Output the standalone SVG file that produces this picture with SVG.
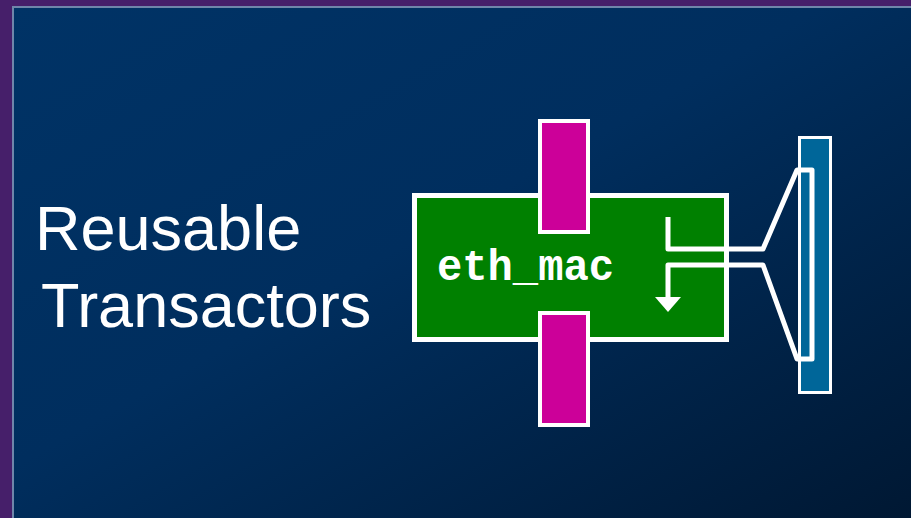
<svg xmlns="http://www.w3.org/2000/svg" width="911" height="518" viewBox="0 0 911 518">
<defs>
<linearGradient id="bg" x1="0" y1="0" x2="1" y2="1">
<stop offset="0" stop-color="#003366"/>
<stop offset="0.45" stop-color="#002e5e"/>
<stop offset="1" stop-color="#001833"/>
</linearGradient>
<style>
.port{fill:#cc0099;stroke:#ffffff;stroke-width:4}
.wire{fill:none;stroke:#ffffff;stroke-width:5;stroke-linejoin:round}
.lbl{fill:#ffffff;font-family:"Liberation Sans",Arial,sans-serif;font-size:63px}
.mono{fill:#ffffff;font-family:"Liberation Mono","Courier New",monospace;font-weight:bold;font-size:44px}
</style>
</defs>
<rect x="0" y="0" width="911" height="518" fill="#461f6a"/>
<rect x="12" y="6" width="899" height="512" fill="#6f86aa"/>
<rect x="14" y="8" width="897" height="510" fill="url(#bg)"/>
<g id="title">
<text class="lbl" x="35" y="250">Reusable</text>
<text class="lbl" x="41" y="327">Transactors</text>
</g>
<g id="eth_mac">
<rect x="414.5" y="195.5" width="312" height="144" fill="#008000" stroke="#ffffff" stroke-width="5"/>
<text class="mono" x="437" y="280" textLength="177" lengthAdjust="spacingAndGlyphs">eth_mac</text>
</g>
<g id="port_top"><rect class="port" x="540" y="121" width="48" height="111"/></g>
<g id="port_bottom"><rect class="port" x="540" y="313" width="48" height="112"/></g>
<g id="bus"><rect x="799.5" y="137.5" width="31" height="255" fill="#006699" stroke="#ffffff" stroke-width="3"/></g>
<g id="connectors">
<path class="wire" d="M668,217 V249 H763 L797,170 H812 V359 H797 L763,265 H668 V299"/>
<polygon points="655,297 681,297 668,312" fill="#ffffff"/>
</g>
</svg>
